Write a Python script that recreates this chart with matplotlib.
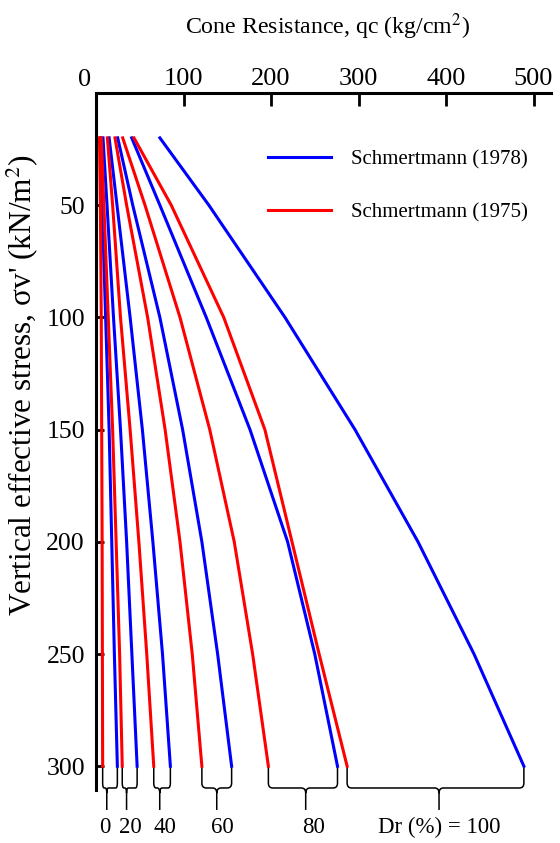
import numpy as np
import matplotlib
matplotlib.use("Agg")
import matplotlib.pyplot as plt
from matplotlib.path import Path
from matplotlib.patches import PathPatch

FONT = "Liberation Serif"
plt.rcParams["font.family"] = [FONT, "DejaVu Serif"]
plt.rcParams["mathtext.fontset"] = "stix"

BLUE = "#0000ff"
RED = "#ff0000"

# vertical effective stress (kN/m2) where the curves were read
stress = [20, 50, 100, 150, 200, 250, 300]

# relative density groups
dr_labels = ["0", "20", "40", "60", "80", "Dr (%) = 100"]

# Schmertmann (1975), qc in kg/cm2
qc_1975 = [
    [4, 5, 6, 6.5, 7, 7.3, 7.6],
    [6, 9, 14, 19, 23, 27, 30],
    [13, 19, 28, 39, 49, 58, 66],
    [21.7, 35, 59, 79, 96, 110, 121],
    [30.5, 56, 96, 130, 158, 179, 197],
    [43.4, 86, 146, 193, 224, 255, 287],
]

# Schmertmann (1978), qc in kg/cm2
qc_1978 = [
    [5, 7, 11, 15, 18, 21, 24.4],
    [8, 12.6, 20, 28, 35, 41, 47],
    [15, 24, 39, 53, 65, 76, 85],
    [24.8, 42, 73, 99, 121, 139, 155],
    [40.8, 73, 126, 176, 219, 250, 276],
    [73, 129, 216, 296, 368, 432, 489],
]

# where the brace tip sits between the two curve ends (fraction), label nudge (px)
brace_tip = [0.28, 0.29, 0.36, 0.5, 0.54, 0.52]
label_dx = [-2, 4, 5, 6, 8, 0]

fig = plt.figure(figsize=(5.6, 8.43), dpi=100)
ax = fig.add_axes([96 / 560, 1 - 790 / 843, 455 / 560, 697 / 843])

for i in range(len(dr_labels)):
    ax.plot(qc_1978[i], stress, color=BLUE, lw=2.2,
            label="Schmertmann (1978)" if i == 0 else None)
    ax.plot(qc_1975[i], stress, color=RED, lw=2.2,
            label="Schmertmann (1975)" if i == 0 else None)

ax.set_xlim(0, 520)
ax.set_ylim(310.6, 0)

# braces below the curve ends
px = 520 / 455.0
for i, lab in enumerate(dr_labels):
    xl = qc_1975[i][-1]
    xr = qc_1978[i][-1]
    xc = xl + brace_tip[i] * (xr - xl)
    rx = min(5.0, (xc - xl) / 2.5, (xr - xc) / 2.5)
    y0 = stress[-1]
    yh = y0 + 9.7
    yk = yh - 2.2
    ym = yh + 2.3
    yt = yh + 9.8
    verts = [
        (xl, y0), (xl, yk),
        (xl, yh), (xl + rx, yh),
        (xc - rx, yh),
        (xc, yh), (xc, ym),
        (xc, yt),
        (xc, ym),
        (xc, yh), (xc + rx, yh),
        (xr - rx, yh),
        (xr, yh), (xr, yk),
        (xr, y0),
    ]
    codes = [
        Path.MOVETO, Path.LINETO,
        Path.CURVE3, Path.CURVE3,
        Path.LINETO,
        Path.CURVE3, Path.CURVE3,
        Path.LINETO,
        Path.MOVETO,
        Path.CURVE3, Path.CURVE3,
        Path.LINETO,
        Path.CURVE3, Path.CURVE3,
        Path.LINETO,
    ]
    ax.add_patch(PathPatch(Path(verts, codes), fill=False, lw=1.1,
                           color="black", clip_on=False))
    ax.text(xc + label_dx[i] * px, yt + 3.0, lab, ha="center", va="top",
            fontsize=16.5, clip_on=False)

for side in ["right", "bottom"]:
    ax.spines[side].set_visible(False)
for side in ["left", "top"]:
    ax.spines[side].set_linewidth(2.2)

ax.xaxis.tick_top()
ax.xaxis.set_label_position("top")
ax.set_xticks([100, 200, 300, 400, 500])
ax.set_yticks([50, 100, 150, 200, 250, 300])
ax.tick_params(axis="x", direction="in", length=9, width=2, labelsize=19, pad=2)
ax.tick_params(axis="y", direction="in", length=6, width=2, labelsize=18.5, pad=8)
ax.text(-0.025, 1.003, "0", transform=ax.transAxes, ha="center", va="bottom",
        fontsize=19)

ax.set_xlabel("Cone Resistance, qc (kg/cm$^2$)", fontsize=17.2)
ax.xaxis.set_label_coords(0.51, 1.085)
ax.set_ylabel("Vertical effective stress, σv' (kN/m$^2$)", fontsize=22.5)
ax.yaxis.set_label_coords(-0.122, 0.581)

ax.legend(loc="upper left", bbox_to_anchor=(268 / 560, 1 - 150 / 843),
          bbox_transform=fig.transFigure, frameon=False, fontsize=15,
          handlelength=3.0, handletextpad=1.0, labelspacing=1.6,
          borderpad=0, borderaxespad=0)

fig.savefig("out.png", dpi=100)
